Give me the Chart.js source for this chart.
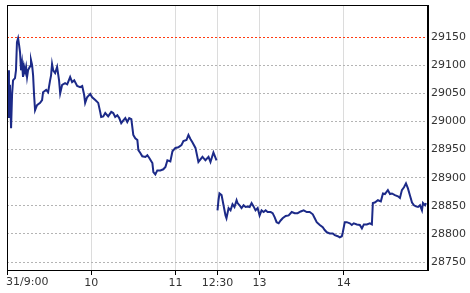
<!DOCTYPE html>
<html>
<head>
<meta charset="utf-8">
<script src="https://cdn.jsdelivr.net/npm/chart.js@4"></script>
<style>
html,body{margin:0;padding:0;background:#fff;}
#wrap{width:470px;height:293px;position:relative;}
</style>
</head>
<body>
<div id="wrap"><canvas id="c" width="470" height="293"></canvas></div>
<script>
// minutes from 9:00 open (morning session 0-150, afternoon session mapped 150-300)
const amMinutes = [0,0.7,1.1,1.4,2.1,2.9,3.6,4.3,5.7,6.4,7.1,7.9,8.6,9.3,10,10.7,11.4,12.1,12.9,13.6,14.3,15,16.4,17.1,17.9,18.6,19.3,20,21.4,23.6,25,25.7,27.9,29.3,30.7,31.4,32.1,32.9,34.3,35.7,37.1,37.9,39.3,41.4,42.9,45,46.4,47.9,50,52.1,53.6,55,55.7,57.1,59.3,60.7,62.9,65,66.4,67.1,68.6,70,72.1,74.3,75.7,77.1,78.6,80,81.4,82.9,84.3,85.7,87.1,88.6,90,91.4,92.9,93.6,95,96.4,98.6,100,101.4,102.9,103.6,104.3,105.7,107.1,109.3,111.4,112.9,114.3,116.4,117.9,120,122.1,124.3,125.7,127.9,129.3,130.7,132.1,134.3,136.4,139.3,141.4,143.6,145,147.1,149.3];
const amValues = [29082,29020,29091,29006,29065,28988,29047,29073,29077,29091,29141,29148,29136,29123,29091,29104,29079,29098,29088,29097,29079,29091,29098,29109,29100,29082,29047,29020,29029,29033,29038,29052,29056,29052,29073,29082,29102,29091,29086,29097,29073,29050,29065,29068,29066,29079,29070,29073,29063,29061,29063,29047,29033,29043,29049,29043,29038,29033,29017,29008,29009,29015,29009,29017,29015,29008,29011,29006,28997,29002,29006,28999,29006,29004,28976,28970,28967,28949,28944,28938,28937,28940,28935,28929,28926,28910,28906,28913,28913,28915,28919,28931,28929,28947,28953,28954,28958,28965,28967,28976,28969,28963,28953,28928,28937,28931,28937,28928,28945,28931];
const pmMinutes = [150,150.7,151.4,152.9,154.3,155.7,156.4,157.9,159.3,160.7,162.1,163.6,164.3,165.7,167.1,168.6,170,171.4,172.9,174.3,175.7,177.1,178.6,180,181.4,182.9,184.3,185.7,187.9,189.3,190.7,192.1,193.6,195,196.4,198.6,200.7,202.9,205,207.1,209.3,211.4,213.6,215.7,217.9,219.3,220.7,222.9,225,226.4,227.9,230,232.1,233.6,235.7,237.1,238.6,239.3,240.7,242.1,244.3,245.7,247.1,249.3,251.4,252.9,254.3,256.4,258.6,260,260.7,262.1,264.3,266.4,267.9,269.3,271.4,272.9,274.3,276.4,278.6,280,281.4,282.9,284.3,285.7,287.1,288.6,290,291.4,292.9,294.3,295.7,296.4,297.9,298.6];
const pmValues = [28842,28860,28872,28869,28851,28833,28828,28846,28842,28853,28848,28860,28855,28851,28846,28851,28848,28849,28848,28855,28849,28842,28846,28833,28842,28839,28842,28839,28839,28837,28830,28821,28819,28824,28828,28832,28833,28839,28837,28837,28840,28842,28839,28839,28835,28828,28821,28816,28812,28807,28803,28801,28801,28798,28796,28794,28796,28803,28821,28821,28819,28816,28819,28817,28816,28810,28817,28817,28819,28817,28855,28856,28860,28858,28872,28871,28878,28871,28872,28869,28867,28864,28878,28883,28890,28881,28869,28856,28851,28849,28848,28851,28842,28855,28851,28855];
const xTickValues = [0,60,120,150,180,240];
const xTickLabels = ['31/9:00','10','11','12:30','13','14'];
const yTickValues = [28750,28800,28850,28900,28950,29000,29050,29100,29150];
const prevClose = 29150;

const points = [];
amMinutes.forEach((m,i)=>points.push({x:m,y:amValues[i]}));
points.push({x:150,y:null});
pmMinutes.forEach((m,i)=>points.push({x:m,y:pmValues[i]}));

const FONT = {family:'DejaVu Sans',size:11};
const prevIdx = yTickValues.indexOf(prevClose);

const boxPlugin = {
  id:'box',
  afterDraw(chart){
    const a = chart.chartArea, ctx = chart.ctx;
    ctx.save();
    ctx.strokeStyle = '#000';
    ctx.lineWidth = 1;
    ctx.strokeRect(Math.round(a.left)+0.5, Math.round(a.top)+0.5, Math.round(a.right-a.left)-1, Math.round(a.bottom-a.top));
    // first x label, left-aligned at the session start
    const xs = chart.scales.x;
    ctx.fillStyle = '#333';
    ctx.font = FONT.size + 'px "' + FONT.family + '"';
    ctx.textAlign = 'left';
    ctx.textBaseline = 'top';
    ctx.fillText(xTickLabels[0], Math.round(xs.getPixelForValue(xTickValues[0])) - 1, xs.top + 7);
    ctx.restore();
  }
};

new Chart(document.getElementById('c'), {
  type:'line',
  data:{datasets:[{
    data:points,
    borderColor:'#1c2a88',
    borderWidth:2,
    pointRadius:0,
    tension:0,
    spanGaps:false
  }]},
  options:{
    responsive:false,
    animation:false,
    events:[],
    layout:{padding:{left:7,top:5,right:0,bottom:0}},
    plugins:{legend:{display:false},tooltip:{enabled:false}},
    scales:{
      x:{
        type:'linear',
        min:0,max:300,
        afterBuildTicks(s){ s.ticks = xTickValues.map(v=>({value:v})); },
        afterFit(s){ s.height = 23; s.paddingLeft = 0; s.paddingRight = 0; },
        ticks:{
          autoSkip:false, maxRotation:0, padding:2,
          color:'#333',
          font:FONT,
          callback(v){ const i = xTickValues.indexOf(v); return i>0 ? xTickLabels[i] : ''; }
        },
        grid:{color:'#dcdcdc',lineWidth:1,drawTicks:true,tickLength:5,tickColor:'#000'},
        border:{display:true,color:'#000'}
      },
      y:{
        position:'right',
        min:28736,max:29207,
        afterBuildTicks(s){ s.ticks = yTickValues.map(v=>({value:v})); },
        afterFit(s){ s.width = 42; s.paddingTop = 0; s.paddingBottom = 0; },
        ticks:{
          padding:3,
          color:'#333',
          font:FONT,
          callback(v){ return String(v); }
        },
        grid:{
          drawTicks:false,
          color(ctx){ return ctx.index===prevIdx ? '#ff3a10' : '#b4b4b4'; },
          lineWidth:1
        },
        border:{display:true,color:'#000',dash:[2,2]}
      }
    }
  },
  plugins:[boxPlugin]
});
</script>
</body>
</html>
